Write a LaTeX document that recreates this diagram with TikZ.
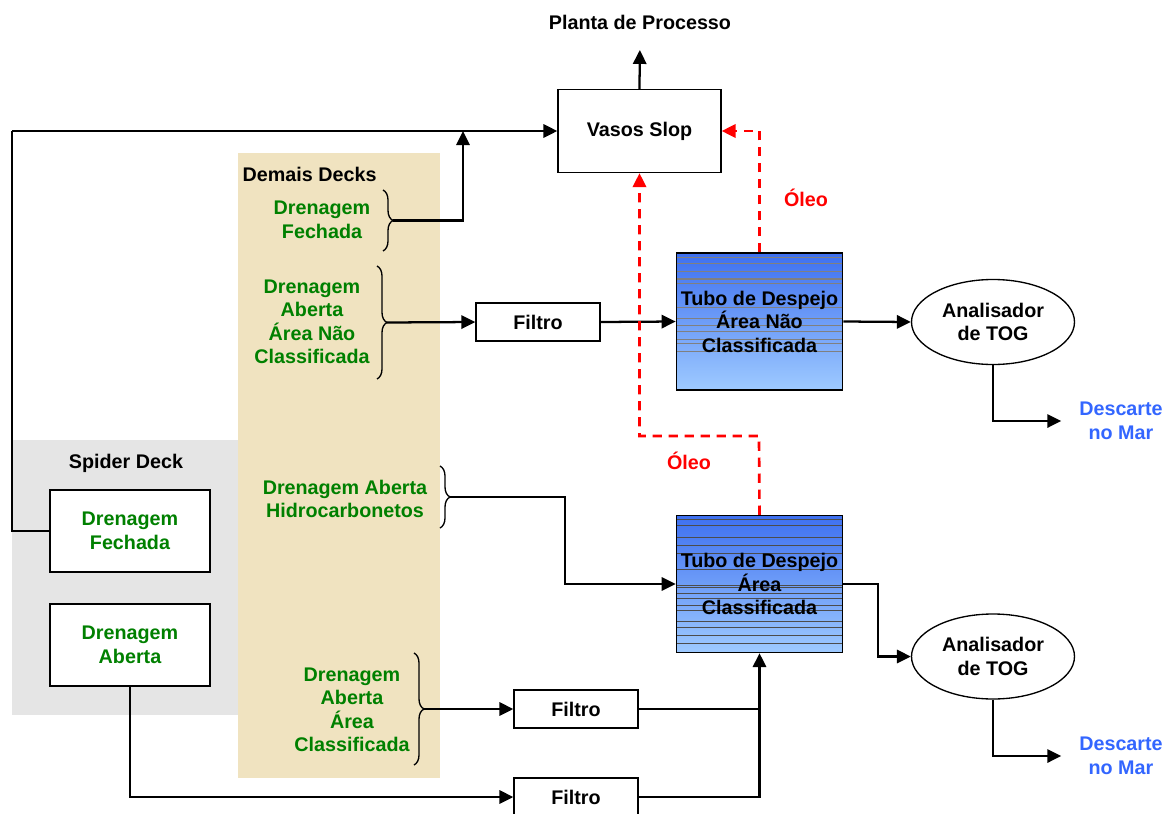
\documentclass[tikz,border=0pt]{standalone}
\usepackage{fontspec}
\setmainfont{Liberation Sans}
\usetikzlibrary{arrows.meta,shapes.geometric,decorations.pathreplacing}

\definecolor{drengreen}{RGB}{0,128,0}
\definecolor{marblue}{RGB}{51,102,255}
\definecolor{decktan}{RGB}{240,227,192}
\definecolor{spidergray}{RGB}{229,229,229}
\definecolor{tubotop}{RGB}{62,112,240}
\definecolor{tubobot}{RGB}{158,202,255}
\definecolor{oilred}{RGB}{255,0,0}

\begin{document}
\begin{tikzpicture}[x=0.75pt,y=-0.75pt,
    every node/.style={font=\bfseries\fontsize{14.8}{17.6}\selectfont,align=center},
    caixa/.style={draw,line width=1pt,fill=white},
    tubo/.style={draw,line width=1pt,minimum width=123.75pt,minimum height=102.75pt,
      top color=tubotop,bottom color=tubobot},
    analisador/.style={draw,ellipse,line width=1pt,fill=white,inner sep=0pt,
      minimum width=122.25pt,minimum height=63.75pt},
    dren/.style={text=drengreen},
    flow/.style={line width=1.7pt,-{Triangle[length=10.5pt,width=10pt]}},
    oil/.style={draw=oilred,line width=2pt,dash pattern=on 7pt off 5pt,
      -{Triangle[length=10.5pt,width=10pt,fill=oilred]}},
    chave/.style={decorate,decoration={brace,amplitude=7.5pt},line width=1pt}]

    \useasboundingbox (0,0) rectangle (1168,814);

    % areas
    \fill[spidergray] (12,440) rectangle (238,715);
    \fill[decktan] (238,153) rectangle (440,778);
    \node (spider) at (126,463) {Spider Deck};
    \node[anchor=west] (demais) at (238,174) {Demais Decks};

    % spider deck
    \node[caixa,dren,minimum width=120pt,minimum height=61.5pt] (sfech) at (130,531) {Drenagem\\Fechada};
    \node[caixa,dren,minimum width=120pt,minimum height=61.5pt] (saber) at (130,645) {Drenagem\\Aberta};

    % demais decks
    \node[dren] (dfech) at (322,220) {Drenagem\\Fechada};
    \node[dren] (dnclass) at (312,322) {Drenagem\\Aberta\\Área Não\\Classificada};
    \node[dren] (dhidro) at (345,499) {Drenagem Aberta\\Hidrocarbonetos};
    \node[dren] (dclass) at (352,710) {Drenagem\\Aberta\\Área\\Classificada};
    \draw[chave] (383,190) -- (383,251);
    \draw[chave] (377,266) -- (377,379);
    \draw[chave] (440,466) -- (440,528);
    \draw[chave] (414,653) -- (414,765);
    \coordinate (bfech) at (393,220.5);
    \coordinate (bnclass) at (387,322.5);
    \coordinate (bhidro) at (450,497);
    \coordinate (bclass) at (424,709);

    % process
    \node[caixa,minimum width=122.25pt,minimum height=62.25pt] (vasos) at (639.5,131) {Vasos Slop};
    \node (planta) at (640,22) {Planta de Processo};
    \node[caixa,minimum width=93pt,minimum height=28.5pt] (filtro1) at (538,322) {Filtro};
    \node[caixa,minimum width=93pt,minimum height=28.5pt] (filtro2) at (576,709) {Filtro};
    \node[caixa,minimum width=93pt,minimum height=28.5pt] (filtro3) at (576,797) {Filtro};

    \node[tubo,path picture={
        \foreach \s in {3,7.5,14,19,20,23,40.5,49,54,59,64.5,68,73.5}
          \draw[gray,line width=0.4pt] ([yshift=-\s pt]path picture bounding box.north west)
            -- ([yshift=-\s pt]path picture bounding box.north east);}]
      (tubo1) at (759.5,321.5) {Tubo de Despejo\\Área Não\\Classificada};
    \node[tubo,path picture={
        \foreach \s in {3,7.5,16,22,28.5,40,52,54,58,62,67.5,71,79,84,90,96}
          \draw[gray!60!black,line width=0.4pt] ([yshift=-\s pt]path picture bounding box.north west)
            -- ([yshift=-\s pt]path picture bounding box.north east);}]
      (tubo2) at (759.5,584) {Tubo de Despejo\\Área\\Classificada};

    \node[analisador] (anal1) at (993,322) {Analisador\\de TOG};
    \node[analisador] (anal2) at (993,656.5) {Analisador\\de TOG};
    \node[text=marblue] (desc1) at (1121,421) {Descarte\\no Mar};
    \node[text=marblue] (desc2) at (1121,756) {Descarte\\no Mar};

    \node[text=oilred] (oleo1) at (806,198) {Óleo};
    \node[text=oilred] (oleo2) at (689,461) {Óleo};

    % connections
    \coordinate (lcanto) at (12,131);
    \coordinate (okink) at (759,436);
    \draw[line width=1.7pt] (sfech.west) -| (lcanto);
    \draw[flow] (lcanto) -- (vasos.west);
    \draw[flow] (bfech) -| (463,131);
    \draw[flow] (vasos.north) -- (planta.south) [shorten >=12pt];
    \draw[flow] (bnclass) -- (filtro1.west);
    \draw[flow] (filtro1.east) -- (tubo1.west);
    \draw[flow] (tubo1.east) -- (anal1.west);
    \draw[flow] (anal1.south) |- (desc1.west) [shorten >=10pt];
    \draw[flow] (bhidro) -- (565,497) |- (tubo2.west);
    \draw[flow] (tubo2.east) -- (878,584) |- (anal2.west);
    \draw[flow] (anal2.south) |- (desc2.west) [shorten >=10pt];
    \draw[flow] (bclass) -- (filtro2.west);
    \draw[flow] (saber.south) |- (filtro3.west);
    \draw[line width=1.7pt] (filtro3.east) -| (tubo2.south |- filtro2.east);
    \draw[flow] (filtro2.east) -| (tubo2.south);
    \draw[oil] (tubo1.north) |- (vasos.east);
    \draw[oil] (tubo2.north) -- (okink) -| (vasos.south);
\end{tikzpicture}
\end{document}
